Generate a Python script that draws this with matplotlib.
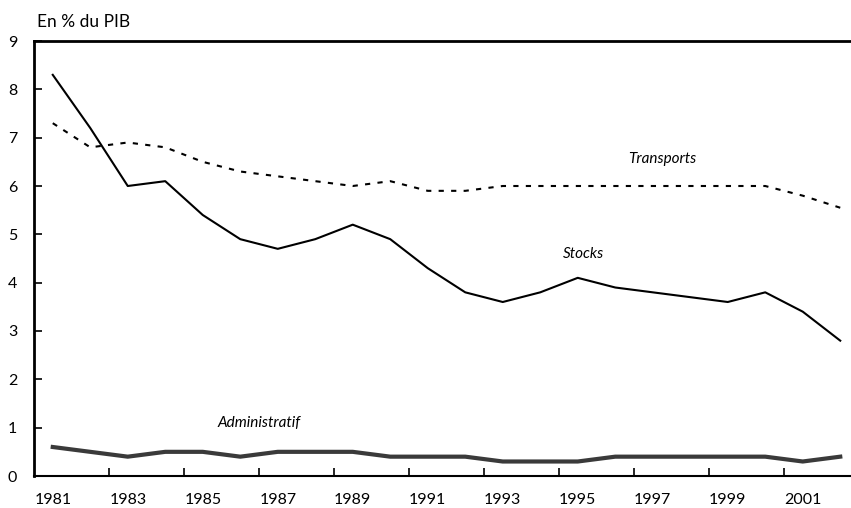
import matplotlib
matplotlib.use("Agg")
import matplotlib.pyplot as plt
import numpy as np

years = list(range(1981, 2003))
stocks = [8.3, 7.2, 6.0, 6.1, 5.4, 4.9, 4.7, 4.9, 5.2, 4.9, 4.3, 3.8, 3.6, 3.8, 4.1, 3.9, 3.8, 3.7, 3.6, 3.8, 3.4, 2.8]
transports = [7.3, 6.8, 6.9, 6.8, 6.5, 6.3, 6.2, 6.1, 6.0, 6.1, 5.9, 5.9, 6.0, 6.0, 6.0, 6.0, 6.0, 6.0, 6.0, 6.0, 5.8, 5.55]
administratif = [0.6, 0.5, 0.4, 0.5, 0.5, 0.4, 0.5, 0.5, 0.5, 0.4, 0.4, 0.4, 0.3, 0.3, 0.3, 0.4, 0.4, 0.4, 0.4, 0.4, 0.3, 0.4]
y_ticks = list(range(0, 10))

plt.rcParams['font.family'] = ['Lato', 'DejaVu Sans']

fig = plt.figure(figsize=(8.51, 5.08), dpi=100)
W, H = 851, 508
left, right, top, bottom = 34, 859, 41, 476
ax = fig.add_axes([left / W, (H - bottom) / H, (right - left) / W, (bottom - top) / H])

x = np.arange(len(years))
ax.plot(x, transports, color='black', lw=1.5, linestyle=(0, (2.5, 3.5)))
ax.plot(x, stocks, color='black', lw=1.5)
ax.plot(x, administratif, color='#3a3a3a', lw=3)

ax.set_xlim(-0.5, len(years) - 0.5)
ax.set_ylim(0, 9)
ax.set_yticks(y_ticks)
ax.set_yticklabels([str(v) for v in y_ticks])
ax.set_xticks(x[::2])
ax.set_xticklabels([str(y) for y in years[::2]])
ax.set_xticks(np.arange(1.5, len(years) - 1, 2), minor=True)

ax.tick_params(axis='x', which='major', length=0, pad=12, labelsize=11.5)
ax.tick_params(axis='x', which='minor', direction='in', length=6, width=1.2)
ax.tick_params(axis='y', direction='in', length=6, width=1.2, pad=12, labelsize=11.5)

for s in ['left', 'top']:
    ax.spines[s].set_linewidth(2)
ax.spines['bottom'].set_linewidth(1.5)
ax.spines['right'].set_visible(False)

ax.text(0.004, 1.025, 'En % du PIB', transform=ax.transAxes, fontsize=12.5, ha='left', va='bottom')
ax.text(16.25, 6.55, 'Transports', fontsize=11, style='italic', ha='center', va='center')
ax.text(14.15, 4.6, 'Stocks', fontsize=11, style='italic', ha='center', va='center')
ax.text(5.5, 1.1, 'Administratif', fontsize=11, style='italic', ha='center', va='center')

fig.savefig('out.png', dpi=100)
